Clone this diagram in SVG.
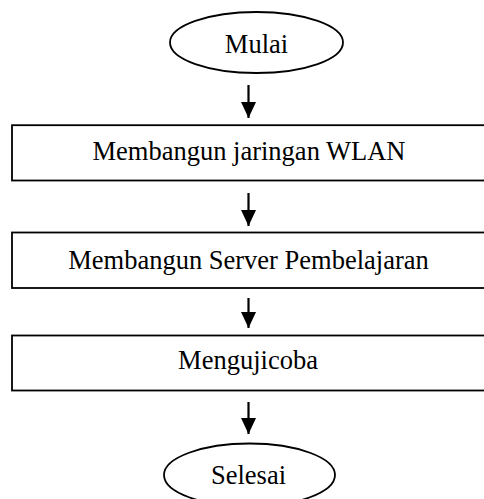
<svg xmlns="http://www.w3.org/2000/svg" width="484" height="499" viewBox="0 0 484 499">
<style>
.shape{fill:#fff;stroke:#000;stroke-width:1.8}
.lbl{font-family:"Liberation Serif","Times New Roman",serif;font-size:26.5px;fill:#000;text-anchor:middle}
.conn{stroke:#000;stroke-width:2.2;fill:none}
</style>
<defs>
<marker id="ah" markerUnits="userSpaceOnUse" markerWidth="17" markerHeight="16" refX="16" refY="7.5" orient="auto">
<path d="M0,0 L16,7.5 L0,15 Z" fill="#000"/>
</marker>
</defs>
<rect width="484" height="499" fill="#fff"/>
<g id="connectors">
<line class="conn" x1="248.5" y1="85" x2="248.5" y2="118" marker-end="url(#ah)"/>
<line class="conn" x1="248.5" y1="193" x2="248.5" y2="226" marker-end="url(#ah)"/>
<line class="conn" x1="248.5" y1="298" x2="248.5" y2="328" marker-end="url(#ah)"/>
<line class="conn" x1="248.5" y1="402" x2="248.5" y2="434" marker-end="url(#ah)"/>
</g>
<g id="mulai">
<ellipse class="shape" cx="256.5" cy="42.5" rx="86.5" ry="30.5"/>
<text class="lbl" x="256.5" y="53">Mulai</text>
</g>
<g id="wlan">
<rect class="shape" x="12" y="125.2" width="480" height="55.3"/>
<text class="lbl" x="249" y="160">Membangun jaringan WLAN</text>
</g>
<g id="server">
<rect class="shape" x="12" y="232.5" width="480" height="55.5"/>
<text class="lbl" x="248.5" y="269">Membangun Server Pembelajaran</text>
</g>
<g id="uji">
<rect class="shape" x="12" y="335.5" width="480" height="55"/>
<text class="lbl" x="248" y="369">Mengujicoba</text>
</g>
<g id="selesai">
<ellipse class="shape" cx="249.5" cy="475" rx="85.5" ry="31.5"/>
<text class="lbl" x="248.5" y="484">Selesai</text>
</g>
</svg>
